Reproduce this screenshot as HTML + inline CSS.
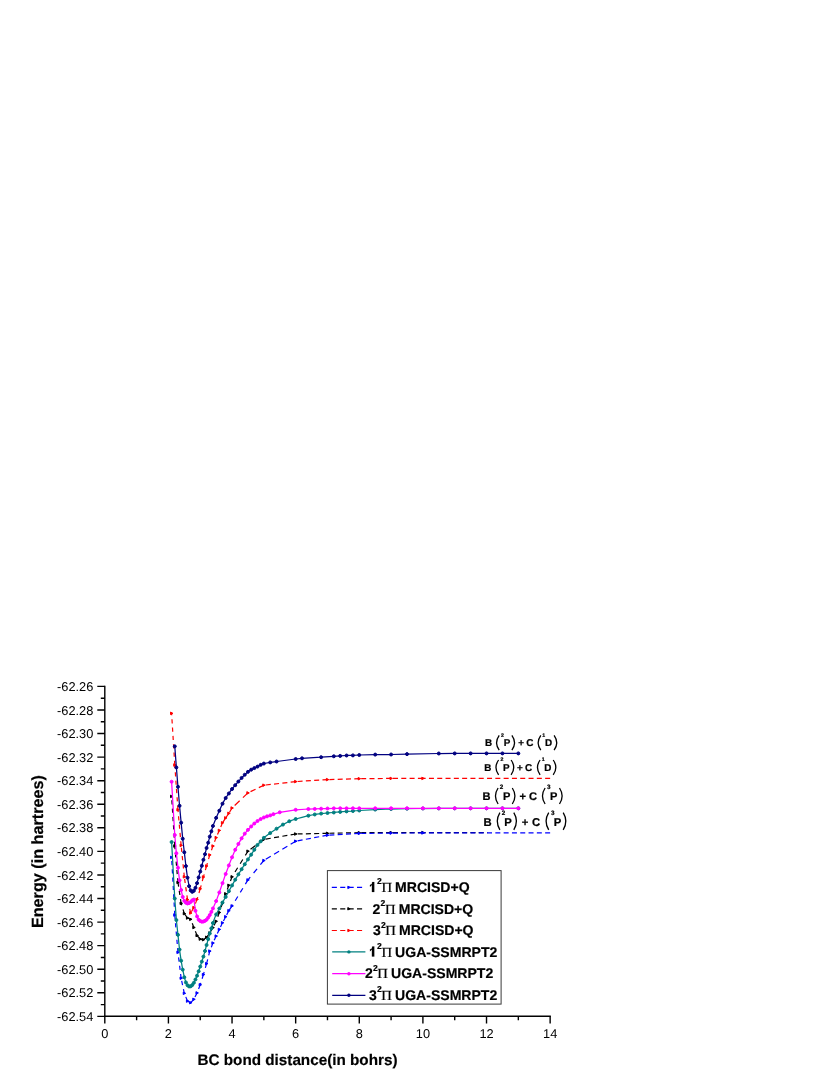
<!DOCTYPE html>
<html><head><meta charset="utf-8"><title>BC potential energy curves</title>
<style>html,body{margin:0;padding:0;background:#fff;}body{width:830px;height:1075px;position:relative;overflow:hidden;font-family:"Liberation Sans",sans-serif;}</style></head>
<body>
<svg width="830" height="1075" viewBox="0 0 830 1075" style="position:absolute;left:0;top:0;font-family:'Liberation Sans',sans-serif;will-change:transform;opacity:0.999;text-rendering:geometricPrecision">
<rect width="830" height="1075" fill="#fff"/>
<defs><clipPath id="ck"><rect x="0" y="0" width="487.5" height="1075"/></clipPath></defs>
<g fill="none" stroke="#000000" stroke-width="1.2" clip-path="url(#ck)"><path d="M174.78,846.00 L171.60,796.40" stroke-dasharray="4.21 4.11"/><path d="M177.96,882.40 L174.78,846.00" stroke-dasharray="4.22 4.12"/><path d="M181.14,903.30 L177.96,882.40" stroke-dasharray="4.25 4.15"/><path d="M184.32,913.60 L181.14,903.30" stroke-dasharray="4.40 4.29"/><path d="M187.51,918.00 L184.32,913.60" stroke-dasharray="5.18 5.06"/><path d="M190.69,919.30 L187.51,918.00" stroke-dasharray="5.40 3.56"/><path d="M193.87,927.50 L190.69,919.30" stroke-dasharray="4.50 4.40"/><path d="M197.05,935.50 L193.87,927.50" stroke-dasharray="4.52 4.41"/><path d="M200.23,939.10 L197.05,935.50" stroke-dasharray="5.60 5.47"/><path d="M203.41,939.70 L200.23,939.10" stroke-dasharray="5.09 3.36"/><path d="M206.59,937.30 L203.41,939.70" stroke-dasharray="6.26 4.13"/><path d="M209.77,933.00 L206.59,937.30" stroke-dasharray="5.22 5.10"/><path d="M212.95,927.60 L209.77,933.00" stroke-dasharray="4.87 4.76"/><path d="M216.13,921.30 L212.95,927.60" stroke-dasharray="4.71 4.59"/><path d="M219.32,912.50 L216.13,921.30" stroke-dasharray="4.47 4.36"/><path d="M222.50,903.20 L219.32,912.50" stroke-dasharray="4.44 4.33"/><path d="M225.68,893.80 L222.50,903.20" stroke-dasharray="4.43 4.33"/><path d="M228.86,885.30 L225.68,893.80" stroke-dasharray="4.48 4.38"/><path d="M232.04,876.80 L228.86,885.30" stroke-dasharray="4.48 4.38"/><path d="M247.94,851.20 L232.04,876.80" stroke-dasharray="4.94 4.83"/><path d="M263.85,839.40 L247.94,851.20" stroke-dasharray="6.23 4.11"/><path d="M295.66,834.00 L263.85,839.40" stroke-dasharray="5.07 3.35"/><path d="M327.47,833.30 L295.66,834.00" stroke-dasharray="5.00 3.30"/><path d="M359.28,832.70 L327.47,833.30" stroke-dasharray="5.00 3.30"/><path d="M391.09,832.55 L359.28,832.70" stroke-dasharray="5.00 3.30"/><path d="M422.90,832.55 L391.09,832.55" stroke-dasharray="5.00 3.30"/><path d="M550.14,832.55 L422.90,832.55" stroke-dasharray="5.00 3.30"/></g>
<g fill="#000000" stroke="#000000" stroke-width="1.0" stroke-linejoin="round"><path d="M170.50,795.15 L172.95,796.40 L170.50,797.65Z"/><path d="M173.68,844.75 L176.13,846.00 L173.68,847.25Z"/><path d="M176.86,881.15 L179.31,882.40 L176.86,883.65Z"/><path d="M180.04,902.05 L182.49,903.30 L180.04,904.55Z"/><path d="M183.22,912.35 L185.67,913.60 L183.22,914.85Z"/><path d="M186.41,916.75 L188.86,918.00 L186.41,919.25Z"/><path d="M189.59,918.05 L192.04,919.30 L189.59,920.55Z"/><path d="M192.77,926.25 L195.22,927.50 L192.77,928.75Z"/><path d="M195.95,934.25 L198.40,935.50 L195.95,936.75Z"/><path d="M199.13,937.85 L201.58,939.10 L199.13,940.35Z"/><path d="M202.31,938.45 L204.76,939.70 L202.31,940.95Z"/><path d="M205.49,936.05 L207.94,937.30 L205.49,938.55Z"/><path d="M208.67,931.75 L211.12,933.00 L208.67,934.25Z"/><path d="M211.85,926.35 L214.30,927.60 L211.85,928.85Z"/><path d="M215.03,920.05 L217.48,921.30 L215.03,922.55Z"/><path d="M218.22,911.25 L220.67,912.50 L218.22,913.75Z"/><path d="M221.40,901.95 L223.85,903.20 L221.40,904.45Z"/><path d="M224.58,892.55 L227.03,893.80 L224.58,895.05Z"/><path d="M227.76,884.05 L230.21,885.30 L227.76,886.55Z"/><path d="M230.94,875.55 L233.39,876.80 L230.94,878.05Z"/><path d="M246.84,849.95 L249.29,851.20 L246.84,852.45Z"/><path d="M262.75,838.15 L265.20,839.40 L262.75,840.65Z"/><path d="M294.56,832.75 L297.01,834.00 L294.56,835.25Z"/><path d="M326.37,832.05 L328.82,833.30 L326.37,834.55Z"/><path d="M358.18,831.45 L360.63,832.70 L358.18,833.95Z"/><path d="M389.99,831.30 L392.44,832.55 L389.99,833.80Z"/><path d="M421.80,831.30 L424.25,832.55 L421.80,833.80Z"/></g>
<g fill="none" stroke="#0000ff" stroke-width="1.2"><path d="M174.78,915.00 L171.60,857.40" stroke-dasharray="4.21 4.11"/><path d="M177.96,952.30 L174.78,915.00" stroke-dasharray="4.22 4.11"/><path d="M181.14,978.20 L177.96,952.30" stroke-dasharray="4.23 4.13"/><path d="M184.32,993.30 L181.14,978.20" stroke-dasharray="4.29 4.19"/><path d="M187.51,1001.10 L184.32,993.30" stroke-dasharray="4.54 4.43"/><path d="M190.69,1002.70 L187.51,1001.10" stroke-dasharray="5.60 3.69"/><path d="M193.87,999.30 L190.69,1002.70" stroke-dasharray="5.75 5.61"/><path d="M197.05,992.90 L193.87,999.30" stroke-dasharray="4.69 4.58"/><path d="M200.23,984.80 L197.05,992.90" stroke-dasharray="4.51 4.40"/><path d="M203.41,974.60 L200.23,984.80" stroke-dasharray="4.40 4.29"/><path d="M206.59,963.70 L203.41,974.60" stroke-dasharray="4.38 4.27"/><path d="M209.77,951.10 L206.59,963.70" stroke-dasharray="4.33 4.23"/><path d="M212.95,943.00 L209.77,951.10" stroke-dasharray="4.51 4.40"/><path d="M216.13,936.10 L212.95,943.00" stroke-dasharray="4.62 4.51"/><path d="M219.32,929.40 L216.13,936.10" stroke-dasharray="4.65 4.54"/><path d="M222.50,922.80 L219.32,929.40" stroke-dasharray="4.66 4.55"/><path d="M225.68,916.70 L222.50,922.80" stroke-dasharray="4.74 4.62"/><path d="M228.86,910.70 L225.68,916.70" stroke-dasharray="4.75 4.64"/><path d="M232.04,905.90 L228.86,910.70" stroke-dasharray="5.04 4.92"/><path d="M247.94,879.90 L232.04,905.90" stroke-dasharray="4.92 4.81"/><path d="M263.85,860.50 L247.94,879.90" stroke-dasharray="5.43 5.30"/><path d="M295.66,841.20 L263.85,860.50" stroke-dasharray="5.85 3.86"/><path d="M327.47,835.20 L295.66,841.20" stroke-dasharray="5.09 3.36"/><path d="M359.28,833.40 L327.47,835.20" stroke-dasharray="5.01 3.31"/><path d="M391.09,833.10 L359.28,833.40" stroke-dasharray="5.00 3.30"/><path d="M422.90,832.90 L391.09,833.10" stroke-dasharray="5.00 3.30"/><path d="M550.14,832.90 L422.90,832.90" stroke-dasharray="5.00 3.30"/></g>
<g fill="#0000ff" stroke="#0000ff" stroke-width="1.0" stroke-linejoin="round"><path d="M170.50,856.15 L172.95,857.40 L170.50,858.65Z"/><path d="M173.68,913.75 L176.13,915.00 L173.68,916.25Z"/><path d="M176.86,951.05 L179.31,952.30 L176.86,953.55Z"/><path d="M180.04,976.95 L182.49,978.20 L180.04,979.45Z"/><path d="M183.22,992.05 L185.67,993.30 L183.22,994.55Z"/><path d="M186.41,999.85 L188.86,1001.10 L186.41,1002.35Z"/><path d="M189.59,1001.45 L192.04,1002.70 L189.59,1003.95Z"/><path d="M192.77,998.05 L195.22,999.30 L192.77,1000.55Z"/><path d="M195.95,991.65 L198.40,992.90 L195.95,994.15Z"/><path d="M199.13,983.55 L201.58,984.80 L199.13,986.05Z"/><path d="M202.31,973.35 L204.76,974.60 L202.31,975.85Z"/><path d="M205.49,962.45 L207.94,963.70 L205.49,964.95Z"/><path d="M208.67,949.85 L211.12,951.10 L208.67,952.35Z"/><path d="M211.85,941.75 L214.30,943.00 L211.85,944.25Z"/><path d="M215.03,934.85 L217.48,936.10 L215.03,937.35Z"/><path d="M218.22,928.15 L220.67,929.40 L218.22,930.65Z"/><path d="M221.40,921.55 L223.85,922.80 L221.40,924.05Z"/><path d="M224.58,915.45 L227.03,916.70 L224.58,917.95Z"/><path d="M227.76,909.45 L230.21,910.70 L227.76,911.95Z"/><path d="M230.94,904.65 L233.39,905.90 L230.94,907.15Z"/><path d="M246.84,878.65 L249.29,879.90 L246.84,881.15Z"/><path d="M262.75,859.25 L265.20,860.50 L262.75,861.75Z"/><path d="M294.56,839.95 L297.01,841.20 L294.56,842.45Z"/><path d="M326.37,833.95 L328.82,835.20 L326.37,836.45Z"/><path d="M358.18,832.15 L360.63,833.40 L358.18,834.65Z"/><path d="M389.99,831.85 L392.44,833.10 L389.99,834.35Z"/><path d="M421.80,831.65 L424.25,832.90 L421.80,834.15Z"/></g>
<g fill="none" stroke="#ff0000" stroke-width="1.2"><path d="M174.78,765.00 L171.60,713.30" stroke-dasharray="4.21 4.11"/><path d="M177.96,809.70 L174.78,765.00" stroke-dasharray="4.21 4.11"/><path d="M181.14,845.40 L177.96,809.70" stroke-dasharray="4.22 4.12"/><path d="M184.32,876.80 L181.14,845.40" stroke-dasharray="4.22 4.12"/><path d="M187.51,899.60 L184.32,876.80" stroke-dasharray="4.24 4.14"/><path d="M190.69,913.00 L187.51,899.60" stroke-dasharray="4.32 4.21"/><path d="M193.87,907.60 L190.69,913.00" stroke-dasharray="4.87 4.76"/><path d="M197.05,899.40 L193.87,907.60" stroke-dasharray="4.50 4.40"/><path d="M200.23,888.80 L197.05,899.40" stroke-dasharray="4.39 4.28"/><path d="M203.41,877.00 L200.23,888.80" stroke-dasharray="4.35 4.25"/><path d="M206.59,866.00 L203.41,877.00" stroke-dasharray="4.37 4.27"/><path d="M209.77,854.90 L206.59,866.00" stroke-dasharray="4.37 4.27"/><path d="M212.95,846.00 L209.77,854.90" stroke-dasharray="4.46 4.35"/><path d="M216.13,837.60 L212.95,846.00" stroke-dasharray="4.49 4.38"/><path d="M219.32,830.40 L216.13,837.60" stroke-dasharray="4.59 4.48"/><path d="M222.50,822.80 L219.32,830.40" stroke-dasharray="4.55 4.44"/><path d="M225.68,817.90 L222.50,822.80" stroke-dasharray="5.01 4.89"/><path d="M228.86,813.30 L225.68,817.90" stroke-dasharray="5.11 4.98"/><path d="M232.04,808.00 L228.86,813.30" stroke-dasharray="4.90 4.78"/><path d="M247.94,792.90 L232.04,808.00" stroke-dasharray="6.89 4.55"/><path d="M263.85,785.20 L247.94,792.90" stroke-dasharray="5.56 3.67"/><path d="M295.66,781.60 L263.85,785.20" stroke-dasharray="5.03 3.32"/><path d="M327.47,779.60 L295.66,781.60" stroke-dasharray="5.01 3.31"/><path d="M359.28,778.70 L327.47,779.60" stroke-dasharray="5.00 3.30"/><path d="M391.09,778.40 L359.28,778.70" stroke-dasharray="5.00 3.30"/><path d="M422.90,778.40 L391.09,778.40" stroke-dasharray="5.00 3.30"/><path d="M550.14,778.40 L422.90,778.40" stroke-dasharray="5.00 3.30"/></g>
<g fill="#ff0000" stroke="#ff0000" stroke-width="1.0" stroke-linejoin="round"><path d="M170.50,712.05 L172.95,713.30 L170.50,714.55Z"/><path d="M173.68,763.75 L176.13,765.00 L173.68,766.25Z"/><path d="M176.86,808.45 L179.31,809.70 L176.86,810.95Z"/><path d="M180.04,844.15 L182.49,845.40 L180.04,846.65Z"/><path d="M183.22,875.55 L185.67,876.80 L183.22,878.05Z"/><path d="M186.41,898.35 L188.86,899.60 L186.41,900.85Z"/><path d="M189.59,911.75 L192.04,913.00 L189.59,914.25Z"/><path d="M192.77,906.35 L195.22,907.60 L192.77,908.85Z"/><path d="M195.95,898.15 L198.40,899.40 L195.95,900.65Z"/><path d="M199.13,887.55 L201.58,888.80 L199.13,890.05Z"/><path d="M202.31,875.75 L204.76,877.00 L202.31,878.25Z"/><path d="M205.49,864.75 L207.94,866.00 L205.49,867.25Z"/><path d="M208.67,853.65 L211.12,854.90 L208.67,856.15Z"/><path d="M211.85,844.75 L214.30,846.00 L211.85,847.25Z"/><path d="M215.03,836.35 L217.48,837.60 L215.03,838.85Z"/><path d="M218.22,829.15 L220.67,830.40 L218.22,831.65Z"/><path d="M221.40,821.55 L223.85,822.80 L221.40,824.05Z"/><path d="M224.58,816.65 L227.03,817.90 L224.58,819.15Z"/><path d="M227.76,812.05 L230.21,813.30 L227.76,814.55Z"/><path d="M230.94,806.75 L233.39,808.00 L230.94,809.25Z"/><path d="M246.84,791.65 L249.29,792.90 L246.84,794.15Z"/><path d="M262.75,783.95 L265.20,785.20 L262.75,786.45Z"/><path d="M294.56,780.35 L297.01,781.60 L294.56,782.85Z"/><path d="M326.37,778.35 L328.82,779.60 L326.37,780.85Z"/><path d="M358.18,777.45 L360.63,778.70 L358.18,779.95Z"/><path d="M389.99,777.15 L392.44,778.40 L389.99,779.65Z"/><path d="M421.80,777.15 L424.25,778.40 L421.80,779.65Z"/></g>
<path d="M171.60,842.00 L171.60,842.02 L174.78,898.50 L174.78,898.53 L176.37,920.00 L176.37,920.03 L177.96,934.80 L177.96,934.83 L179.55,949.55 L179.90,952.30 L181.14,960.69 L182.30,967.30 L182.73,969.63 L184.32,977.23 L184.70,978.60 L185.92,982.42 L187.10,984.80 L187.51,985.22 L189.10,986.44 L189.80,986.60 L190.69,986.33 L192.28,985.02 L192.50,984.80 L193.87,982.78 L195.46,979.49 L195.50,979.40 L197.05,975.66 L198.60,971.40 L198.64,971.29 L200.23,966.57 L201.60,962.30 L201.82,961.61 L203.41,956.58 L204.00,954.60 L205.00,950.97 L206.40,945.70 L206.59,944.99 L208.18,939.13 L209.40,934.80 L209.77,933.53 L211.36,928.32 L211.40,928.20 L212.95,923.00 L213.50,921.30 L215.60,915.60 L216.13,914.44 L218.90,909.30 L219.32,908.50 L222.00,903.40 L222.50,902.50 L225.40,897.40 L225.68,896.91 L228.70,891.50 L228.86,891.21 L232.04,885.40 L235.00,880.10 L235.22,879.72 L238.40,874.37 L241.58,869.23 L241.60,869.20 L244.76,864.27 L247.90,859.50 L247.94,859.43 L251.13,854.65 L253.80,850.60 L254.31,849.80 L257.20,845.30 L257.49,844.93 L260.67,841.35 L260.80,841.20 L263.85,837.83 L264.10,837.60 L270.20,833.10 L270.21,833.09 L276.57,828.68 L276.70,828.60 L282.90,824.60 L282.94,824.58 L289.30,821.24 L289.40,821.20 L295.66,819.01 L295.70,819.00 L302.00,817.40 L308.38,815.70 L308.40,815.70 L314.70,814.50 L314.75,814.49 L321.00,813.60 L321.11,813.59 L327.40,813.00 L327.47,812.99 L333.70,812.50 L333.83,812.49 L340.00,811.90 L340.19,811.88 L346.30,811.40 L346.56,811.38 L352.92,811.01 L353.00,811.00 L359.28,810.50 L359.30,810.50 L375.19,809.60 L375.20,809.60 L391.00,809.00 L391.09,809.00 L406.90,808.70 L407.00,808.70 L422.90,808.50 L423.00,808.50 L438.81,808.43 L454.71,808.38 L470.00,808.35 L470.62,808.35 L486.52,808.33 L502.43,808.31 L518.33,808.30 L518.40,808.30" fill="none" stroke="#008080" stroke-width="1.25" stroke-linejoin="round"/>
<g fill="#008080" stroke="#008080" stroke-width="1.0" stroke-linejoin="round"><circle cx="171.60" cy="842.02" r="1.5"/><circle cx="174.78" cy="898.53" r="1.5"/><circle cx="176.37" cy="920.03" r="1.5"/><circle cx="177.96" cy="934.83" r="1.5"/><circle cx="179.55" cy="949.55" r="1.5"/><circle cx="181.14" cy="960.69" r="1.5"/><circle cx="182.73" cy="969.63" r="1.5"/><circle cx="184.32" cy="977.23" r="1.5"/><circle cx="185.92" cy="982.42" r="1.5"/><circle cx="187.51" cy="985.22" r="1.5"/><circle cx="189.10" cy="986.44" r="1.5"/><circle cx="190.69" cy="986.33" r="1.5"/><circle cx="192.28" cy="985.02" r="1.5"/><circle cx="193.87" cy="982.78" r="1.5"/><circle cx="195.46" cy="979.49" r="1.5"/><circle cx="197.05" cy="975.66" r="1.5"/><circle cx="198.64" cy="971.29" r="1.5"/><circle cx="200.23" cy="966.57" r="1.5"/><circle cx="201.82" cy="961.61" r="1.5"/><circle cx="203.41" cy="956.58" r="1.5"/><circle cx="205.00" cy="950.97" r="1.5"/><circle cx="206.59" cy="944.99" r="1.5"/><circle cx="208.18" cy="939.13" r="1.5"/><circle cx="209.77" cy="933.53" r="1.5"/><circle cx="211.36" cy="928.32" r="1.5"/><circle cx="212.95" cy="923.00" r="1.5"/><circle cx="216.13" cy="914.44" r="1.5"/><circle cx="219.32" cy="908.50" r="1.5"/><circle cx="222.50" cy="902.50" r="1.5"/><circle cx="225.68" cy="896.91" r="1.5"/><circle cx="228.86" cy="891.21" r="1.5"/><circle cx="232.04" cy="885.40" r="1.5"/><circle cx="235.22" cy="879.72" r="1.5"/><circle cx="238.40" cy="874.37" r="1.5"/><circle cx="241.58" cy="869.23" r="1.5"/><circle cx="244.76" cy="864.27" r="1.5"/><circle cx="247.94" cy="859.43" r="1.5"/><circle cx="251.13" cy="854.65" r="1.5"/><circle cx="254.31" cy="849.80" r="1.5"/><circle cx="257.49" cy="844.93" r="1.5"/><circle cx="260.67" cy="841.35" r="1.5"/><circle cx="263.85" cy="837.83" r="1.5"/><circle cx="270.21" cy="833.09" r="1.5"/><circle cx="276.57" cy="828.68" r="1.5"/><circle cx="282.94" cy="824.58" r="1.5"/><circle cx="289.30" cy="821.24" r="1.5"/><circle cx="295.66" cy="819.01" r="1.5"/><circle cx="308.38" cy="815.70" r="1.5"/><circle cx="314.75" cy="814.49" r="1.5"/><circle cx="321.11" cy="813.59" r="1.5"/><circle cx="327.47" cy="812.99" r="1.5"/><circle cx="333.83" cy="812.49" r="1.5"/><circle cx="340.19" cy="811.88" r="1.5"/><circle cx="346.56" cy="811.38" r="1.5"/><circle cx="352.92" cy="811.01" r="1.5"/><circle cx="359.28" cy="810.50" r="1.5"/><circle cx="375.19" cy="809.60" r="1.5"/><circle cx="391.09" cy="809.00" r="1.5"/><circle cx="407.00" cy="808.70" r="1.5"/><circle cx="422.90" cy="808.50" r="1.5"/><circle cx="438.81" cy="808.43" r="1.5"/><circle cx="454.71" cy="808.38" r="1.5"/><circle cx="470.62" cy="808.35" r="1.5"/><circle cx="486.52" cy="808.33" r="1.5"/><circle cx="502.43" cy="808.31" r="1.5"/><circle cx="518.33" cy="808.30" r="1.5"/></g>
<path d="M171.60,781.70 L171.60,781.72 L174.78,835.00 L174.78,835.03 L176.37,853.20 L176.37,853.23 L177.96,867.69 L178.00,868.00 L179.55,880.28 L179.60,880.60 L181.10,889.80 L181.14,890.02 L182.73,896.91 L182.90,897.40 L184.32,900.86 L185.20,902.10 L185.92,902.68 L187.51,903.48 L187.80,903.50 L189.10,903.03 L190.30,902.20 L190.69,901.88 L192.20,900.40 L192.28,900.35 L193.87,899.60 L193.90,899.60 L194.70,905.10 L195.46,910.78 L195.50,911.00 L197.00,916.30 L197.05,916.42 L198.64,919.67 L199.30,920.40 L200.23,921.01 L201.82,921.66 L202.30,921.70 L203.41,921.52 L205.00,920.80 L205.70,920.40 L206.59,919.65 L208.18,917.54 L209.00,916.30 L209.77,915.01 L211.36,911.88 L211.50,911.60 L212.95,908.42 L214.10,905.80 L216.10,901.20 L216.13,901.11 L219.30,892.50 L219.32,892.45 L222.30,883.70 L222.50,883.12 L225.30,875.00 L225.68,873.95 L228.86,865.41 L228.90,865.30 L232.04,857.29 L232.20,856.90 L235.20,849.80 L235.22,849.76 L238.40,843.95 L238.60,843.60 L241.58,838.33 L241.60,838.30 L244.60,833.90 L244.76,833.68 L247.90,829.90 L247.94,829.85 L251.00,826.60 L251.13,826.48 L254.00,823.80 L254.31,823.53 L257.20,821.20 L257.49,821.00 L260.67,819.07 L260.80,819.00 L263.85,817.50 L264.10,817.40 L267.03,816.35 L267.20,816.30 L270.20,815.40 L270.21,815.40 L273.39,814.14 L273.50,814.10 L279.75,812.31 L279.80,812.30 L295.66,809.80 L295.70,809.80 L308.38,809.00 L308.40,809.00 L314.70,808.90 L314.75,808.90 L321.00,808.70 L321.11,808.70 L327.40,808.50 L327.47,808.50 L333.83,808.36 L340.00,808.30 L340.19,808.30 L346.56,808.30 L352.92,808.30 L359.28,808.30 L375.19,808.30 L391.09,808.30 L407.00,808.30 L420.00,808.30 L422.90,808.30 L438.81,808.30 L454.71,808.30 L470.62,808.30 L486.52,808.30 L502.43,808.30 L518.33,808.30 L518.40,808.30" fill="none" stroke="#ff00ff" stroke-width="1.25" stroke-linejoin="round"/>
<g fill="#ff00ff" stroke="#ff00ff" stroke-width="1.0" stroke-linejoin="round"><circle cx="171.60" cy="781.72" r="1.5"/><circle cx="174.78" cy="835.03" r="1.5"/><circle cx="176.37" cy="853.23" r="1.5"/><circle cx="177.96" cy="867.69" r="1.5"/><circle cx="179.55" cy="880.28" r="1.5"/><circle cx="181.14" cy="890.02" r="1.5"/><circle cx="182.73" cy="896.91" r="1.5"/><circle cx="184.32" cy="900.86" r="1.5"/><circle cx="185.92" cy="902.68" r="1.5"/><circle cx="187.51" cy="903.48" r="1.5"/><circle cx="189.10" cy="903.03" r="1.5"/><circle cx="190.69" cy="901.88" r="1.5"/><circle cx="192.28" cy="900.35" r="1.5"/><circle cx="193.87" cy="899.60" r="1.5"/><circle cx="195.46" cy="910.78" r="1.5"/><circle cx="197.05" cy="916.42" r="1.5"/><circle cx="198.64" cy="919.67" r="1.5"/><circle cx="200.23" cy="921.01" r="1.5"/><circle cx="201.82" cy="921.66" r="1.5"/><circle cx="203.41" cy="921.52" r="1.5"/><circle cx="205.00" cy="920.80" r="1.5"/><circle cx="206.59" cy="919.65" r="1.5"/><circle cx="208.18" cy="917.54" r="1.5"/><circle cx="209.77" cy="915.01" r="1.5"/><circle cx="211.36" cy="911.88" r="1.5"/><circle cx="212.95" cy="908.42" r="1.5"/><circle cx="216.13" cy="901.11" r="1.5"/><circle cx="219.32" cy="892.45" r="1.5"/><circle cx="222.50" cy="883.12" r="1.5"/><circle cx="225.68" cy="873.95" r="1.5"/><circle cx="228.86" cy="865.41" r="1.5"/><circle cx="232.04" cy="857.29" r="1.5"/><circle cx="235.22" cy="849.76" r="1.5"/><circle cx="238.40" cy="843.95" r="1.5"/><circle cx="241.58" cy="838.33" r="1.5"/><circle cx="244.76" cy="833.68" r="1.5"/><circle cx="247.94" cy="829.85" r="1.5"/><circle cx="251.13" cy="826.48" r="1.5"/><circle cx="254.31" cy="823.53" r="1.5"/><circle cx="257.49" cy="821.00" r="1.5"/><circle cx="260.67" cy="819.07" r="1.5"/><circle cx="263.85" cy="817.50" r="1.5"/><circle cx="267.03" cy="816.35" r="1.5"/><circle cx="270.21" cy="815.40" r="1.5"/><circle cx="273.39" cy="814.14" r="1.5"/><circle cx="279.75" cy="812.31" r="1.5"/><circle cx="295.66" cy="809.80" r="1.5"/><circle cx="308.38" cy="809.00" r="1.5"/><circle cx="314.75" cy="808.90" r="1.5"/><circle cx="321.11" cy="808.70" r="1.5"/><circle cx="327.47" cy="808.50" r="1.5"/><circle cx="333.83" cy="808.36" r="1.5"/><circle cx="340.19" cy="808.30" r="1.5"/><circle cx="346.56" cy="808.30" r="1.5"/><circle cx="352.92" cy="808.30" r="1.5"/><circle cx="359.28" cy="808.30" r="1.5"/><circle cx="375.19" cy="808.30" r="1.5"/><circle cx="391.09" cy="808.30" r="1.5"/><circle cx="407.00" cy="808.30" r="1.5"/><circle cx="422.90" cy="808.30" r="1.5"/><circle cx="438.81" cy="808.30" r="1.5"/><circle cx="454.71" cy="808.30" r="1.5"/><circle cx="470.62" cy="808.30" r="1.5"/><circle cx="486.52" cy="808.30" r="1.5"/><circle cx="502.43" cy="808.30" r="1.5"/><circle cx="518.33" cy="808.30" r="1.5"/></g>
<path d="M174.78,746.30 L174.78,746.33 L176.30,766.50 L176.37,767.42 L177.96,786.75 L178.00,787.20 L179.50,805.20 L179.55,805.80 L181.10,822.20 L181.14,822.66 L182.70,838.40 L182.73,838.72 L184.32,852.26 L184.40,852.90 L185.90,866.00 L185.92,866.12 L187.40,877.00 L187.51,877.65 L189.10,886.13 L189.20,886.50 L190.69,890.38 L190.70,890.40 L192.28,891.87 L192.50,891.90 L193.87,890.76 L194.00,890.60 L195.40,888.00 L195.46,887.87 L197.00,883.30 L197.05,883.14 L198.50,877.90 L198.64,877.39 L200.10,872.00 L200.23,871.53 L201.70,866.20 L201.82,865.75 L203.30,860.20 L203.41,859.80 L205.00,854.20 L205.00,854.19 L206.50,848.30 L206.59,847.97 L208.18,842.66 L208.20,842.60 L209.70,836.90 L209.77,836.64 L211.30,831.50 L211.36,831.29 L212.95,825.94 L213.00,825.80 L215.70,818.90 L216.13,817.87 L219.10,811.20 L219.32,810.71 L222.10,804.50 L222.50,803.70 L225.30,798.60 L225.68,798.00 L228.70,793.70 L228.86,793.47 L231.90,789.20 L232.04,789.02 L235.20,785.20 L235.22,785.18 L238.40,781.53 L238.60,781.30 L241.58,777.92 L241.70,777.80 L244.76,774.73 L244.90,774.60 L247.94,771.84 L248.00,771.80 L250.90,769.80 L251.13,769.67 L254.30,768.10 L254.31,768.10 L257.49,766.61 L257.50,766.60 L260.67,764.86 L260.80,764.80 L263.85,763.57 L264.10,763.50 L270.20,762.40 L270.21,762.40 L276.57,761.52 L276.70,761.50 L295.66,759.00 L295.70,759.00 L302.00,758.30 L302.02,758.30 L321.00,757.20 L321.11,757.19 L333.70,756.30 L333.83,756.29 L340.00,755.90 L340.19,755.89 L346.30,755.50 L346.56,755.49 L352.92,755.40 L353.00,755.40 L359.28,755.00 L359.30,755.00 L375.19,754.60 L375.20,754.60 L391.00,754.50 L391.09,754.50 L406.90,754.10 L407.00,754.10 L438.81,753.50 L438.90,753.50 L454.71,753.43 L470.00,753.40 L470.62,753.40 L486.52,753.40 L502.43,753.40 L518.33,753.40 L518.40,753.40" fill="none" stroke="#000080" stroke-width="1.25" stroke-linejoin="round"/>
<g fill="#000080" stroke="#000080" stroke-width="1.0" stroke-linejoin="round"><circle cx="174.78" cy="746.33" r="1.5"/><circle cx="176.37" cy="767.42" r="1.5"/><circle cx="177.96" cy="786.75" r="1.5"/><circle cx="179.55" cy="805.80" r="1.5"/><circle cx="181.14" cy="822.66" r="1.5"/><circle cx="182.73" cy="838.72" r="1.5"/><circle cx="184.32" cy="852.26" r="1.5"/><circle cx="185.92" cy="866.12" r="1.5"/><circle cx="187.51" cy="877.65" r="1.5"/><circle cx="189.10" cy="886.13" r="1.5"/><circle cx="190.69" cy="890.38" r="1.5"/><circle cx="192.28" cy="891.87" r="1.5"/><circle cx="193.87" cy="890.76" r="1.5"/><circle cx="195.46" cy="887.87" r="1.5"/><circle cx="197.05" cy="883.14" r="1.5"/><circle cx="198.64" cy="877.39" r="1.5"/><circle cx="200.23" cy="871.53" r="1.5"/><circle cx="201.82" cy="865.75" r="1.5"/><circle cx="203.41" cy="859.80" r="1.5"/><circle cx="205.00" cy="854.19" r="1.5"/><circle cx="206.59" cy="847.97" r="1.5"/><circle cx="208.18" cy="842.66" r="1.5"/><circle cx="209.77" cy="836.64" r="1.5"/><circle cx="211.36" cy="831.29" r="1.5"/><circle cx="212.95" cy="825.94" r="1.5"/><circle cx="216.13" cy="817.87" r="1.5"/><circle cx="219.32" cy="810.71" r="1.5"/><circle cx="222.50" cy="803.70" r="1.5"/><circle cx="225.68" cy="798.00" r="1.5"/><circle cx="228.86" cy="793.47" r="1.5"/><circle cx="232.04" cy="789.02" r="1.5"/><circle cx="235.22" cy="785.18" r="1.5"/><circle cx="238.40" cy="781.53" r="1.5"/><circle cx="241.58" cy="777.92" r="1.5"/><circle cx="244.76" cy="774.73" r="1.5"/><circle cx="247.94" cy="771.84" r="1.5"/><circle cx="251.13" cy="769.67" r="1.5"/><circle cx="254.31" cy="768.10" r="1.5"/><circle cx="257.49" cy="766.61" r="1.5"/><circle cx="260.67" cy="764.86" r="1.5"/><circle cx="263.85" cy="763.57" r="1.5"/><circle cx="270.21" cy="762.40" r="1.5"/><circle cx="276.57" cy="761.52" r="1.5"/><circle cx="295.66" cy="759.00" r="1.5"/><circle cx="302.02" cy="758.30" r="1.5"/><circle cx="321.11" cy="757.19" r="1.5"/><circle cx="333.83" cy="756.29" r="1.5"/><circle cx="340.19" cy="755.89" r="1.5"/><circle cx="346.56" cy="755.49" r="1.5"/><circle cx="352.92" cy="755.40" r="1.5"/><circle cx="359.28" cy="755.00" r="1.5"/><circle cx="375.19" cy="754.60" r="1.5"/><circle cx="391.09" cy="754.50" r="1.5"/><circle cx="407.00" cy="754.10" r="1.5"/><circle cx="438.81" cy="753.50" r="1.5"/><circle cx="454.71" cy="753.43" r="1.5"/><circle cx="470.62" cy="753.40" r="1.5"/><circle cx="486.52" cy="753.40" r="1.5"/><circle cx="502.43" cy="753.40" r="1.5"/><circle cx="518.33" cy="753.40" r="1.5"/></g>
<g stroke="#000" stroke-width="1.4" fill="none">
<path d="M104.80,685.70 V1017.00"/>
<path d="M104.10,1016.30 H550.84"/>
<path d="M104.80,686.40 h-7.5 M104.80,709.97 h-7.5 M104.80,733.54 h-7.5 M104.80,757.11 h-7.5 M104.80,780.68 h-7.5 M104.80,804.25 h-7.5 M104.80,827.82 h-7.5 M104.80,851.39 h-7.5 M104.80,874.96 h-7.5 M104.80,898.53 h-7.5 M104.80,922.10 h-7.5 M104.80,945.67 h-7.5 M104.80,969.24 h-7.5 M104.80,992.81 h-7.5 M104.80,1016.38 h-7.5 M104.80,698.18 h-4 M104.80,721.75 h-4 M104.80,745.32 h-4 M104.80,768.89 h-4 M104.80,792.46 h-4 M104.80,816.03 h-4 M104.80,839.61 h-4 M104.80,863.17 h-4 M104.80,886.75 h-4 M104.80,910.31 h-4 M104.80,933.88 h-4 M104.80,957.45 h-4 M104.80,981.02 h-4 M104.80,1004.60 h-4 M104.80,1016.30 v7.2 M136.61,1016.30 v4 M168.42,1016.30 v7.2 M200.23,1016.30 v4 M232.04,1016.30 v7.2 M263.85,1016.30 v4 M295.66,1016.30 v7.2 M327.47,1016.30 v4 M359.28,1016.30 v7.2 M391.09,1016.30 v4 M422.90,1016.30 v7.2 M454.71,1016.30 v4 M486.52,1016.30 v7.2 M518.33,1016.30 v4 M550.14,1016.30 v7.2"/>
</g>
<g font-size="12.8" fill="#000">
<text x="93.3" y="691.00" text-anchor="end">-62.26</text>
<text x="93.3" y="714.57" text-anchor="end">-62.28</text>
<text x="93.3" y="738.14" text-anchor="end">-62.30</text>
<text x="93.3" y="761.71" text-anchor="end">-62.32</text>
<text x="93.3" y="785.28" text-anchor="end">-62.34</text>
<text x="93.3" y="808.85" text-anchor="end">-62.36</text>
<text x="93.3" y="832.42" text-anchor="end">-62.38</text>
<text x="93.3" y="855.99" text-anchor="end">-62.40</text>
<text x="93.3" y="879.56" text-anchor="end">-62.42</text>
<text x="93.3" y="903.13" text-anchor="end">-62.44</text>
<text x="93.3" y="926.70" text-anchor="end">-62.46</text>
<text x="93.3" y="950.27" text-anchor="end">-62.48</text>
<text x="93.3" y="973.84" text-anchor="end">-62.50</text>
<text x="93.3" y="997.41" text-anchor="end">-62.52</text>
<text x="93.3" y="1020.98" text-anchor="end">-62.54</text>
<text x="104.80" y="1038" text-anchor="middle">0</text>
<text x="168.42" y="1038" text-anchor="middle">2</text>
<text x="232.04" y="1038" text-anchor="middle">4</text>
<text x="295.66" y="1038" text-anchor="middle">6</text>
<text x="359.28" y="1038" text-anchor="middle">8</text>
<text x="422.90" y="1038" text-anchor="middle">10</text>
<text x="486.52" y="1038" text-anchor="middle">12</text>
<text x="550.14" y="1038" text-anchor="middle">14</text>
</g>
<g font-weight="bold" fill="#000" stroke="#000" stroke-width="0.18">
<text x="297.5" y="1065.3" font-size="15.25" text-anchor="middle">BC bond distance(in bohrs)</text>
<text transform="translate(43.2,851.6) rotate(-90)" font-size="16.2" text-anchor="middle">Energy (in hartrees)</text>
</g>
<rect x="327.4" y="870.6" width="173.7" height="133.5" fill="#fff" stroke="#3a3a3a" stroke-width="1"/>
<g stroke="#000" stroke-width="0.18">
<path d="M331.8,887.4 H362.1" stroke="#0000ff" stroke-width="1.15" stroke-dasharray="5.1 3.3" fill="none"/>
<path d="M347.8,886.1999999999999 L350.2,887.4 L347.8,888.6Z" fill="#0000ff" stroke="#0000ff" stroke-width="1.0" stroke-linejoin="round"/>
<path d="M374.26,892.00 L371.93,892.00 L371.93,884.92 L370.10,886.80 L369.90,885.07 L371.88,883.98 L372.23,882.10 L374.26,882.10Z" fill="#000"/>
<text x="377.0" y="884.4" font-size="8.6" font-weight="bold">2</text>
<text transform="translate(381.4,892.0) scale(1.06,1)" font-size="13.9" font-family="'Liberation Serif',serif" stroke="#000" stroke-width="0.22">&#928;</text>
<text x="395.1" y="892.0" font-size="14.05" font-weight="bold">MRCISD+Q</text>
<path d="M331.8,908.8 H362.1" stroke="#000000" stroke-width="1.15" stroke-dasharray="5.1 3.3" fill="none"/>
<path d="M347.8,907.5999999999999 L350.2,908.8 L347.8,910.0Z" fill="#000000" stroke="#000000" stroke-width="1.0" stroke-linejoin="round"/>
<text x="372.6" y="913.5" font-size="14.05" font-weight="bold">2</text>
<text x="380.6" y="905.9" font-size="8.6" font-weight="bold">2</text>
<text transform="translate(385.0,913.5) scale(1.06,1)" font-size="13.9" font-family="'Liberation Serif',serif" stroke="#000" stroke-width="0.22">&#928;</text>
<text x="398.70000000000005" y="913.5" font-size="14.05" font-weight="bold">MRCISD+Q</text>
<path d="M331.8,930.5 H362.1" stroke="#ff0000" stroke-width="1.15" stroke-dasharray="5.1 3.3" fill="none"/>
<path d="M347.8,929.3 L350.2,930.5 L347.8,931.7Z" fill="#ff0000" stroke="#ff0000" stroke-width="1.0" stroke-linejoin="round"/>
<text x="372.9" y="935.2" font-size="14.05" font-weight="bold">3</text>
<text x="380.9" y="927.6" font-size="8.6" font-weight="bold">2</text>
<text transform="translate(385.29999999999995,935.2) scale(1.06,1)" font-size="13.9" font-family="'Liberation Serif',serif" stroke="#000" stroke-width="0.22">&#928;</text>
<text x="399.0" y="935.2" font-size="14.05" font-weight="bold">MRCISD+Q</text>
<path d="M332.2,951.9 H365.4" stroke="#008080" stroke-width="1.2" fill="none"/>
<circle cx="348.9" cy="951.9" r="1.7" fill="#008080" stroke="none"/>
<path d="M374.26,956.50 L371.93,956.50 L371.93,949.42 L370.10,951.30 L369.90,949.57 L371.88,948.48 L372.23,946.60 L374.26,946.60Z" fill="#000"/>
<text x="377.0" y="948.9" font-size="8.6" font-weight="bold">2</text>
<text transform="translate(381.4,956.5) scale(1.06,1)" font-size="13.9" font-family="'Liberation Serif',serif" stroke="#000" stroke-width="0.22">&#928;</text>
<text x="395.1" y="956.5" font-size="14.05" font-weight="bold">UGA-SSMRPT2</text>
<path d="M332.2,973.7 H365.4" stroke="#ff00ff" stroke-width="1.2" fill="none"/>
<circle cx="348.9" cy="973.7" r="1.7" fill="#ff00ff" stroke="none"/>
<text x="364.9" y="978.3" font-size="14.05" font-weight="bold">2</text>
<text x="372.9" y="970.6999999999999" font-size="8.6" font-weight="bold">2</text>
<text transform="translate(377.29999999999995,978.3) scale(1.06,1)" font-size="13.9" font-family="'Liberation Serif',serif" stroke="#000" stroke-width="0.22">&#928;</text>
<text x="391.0" y="978.3" font-size="14.05" font-weight="bold">UGA-SSMRPT2</text>
<path d="M332.2,995.3 H365.4" stroke="#000080" stroke-width="1.2" fill="none"/>
<circle cx="348.9" cy="995.3" r="1.7" fill="#000080" stroke="none"/>
<text x="368.9" y="999.8" font-size="14.05" font-weight="bold">3</text>
<text x="376.9" y="992.1999999999999" font-size="8.6" font-weight="bold">2</text>
<text transform="translate(381.29999999999995,999.8) scale(1.06,1)" font-size="13.9" font-family="'Liberation Serif',serif" stroke="#000" stroke-width="0.22">&#928;</text>
<text x="395.0" y="999.8" font-size="14.05" font-weight="bold">UGA-SSMRPT2</text>
</g>
<g font-weight="bold" font-size="9.9" fill="#000" stroke="#000" stroke-width="0.22">
<text x="485.11" y="746.1">B</text>
<text x="503.81" y="746.1">P</text>
<text x="518.31" y="746.1">+</text>
<text x="526.31" y="746.1">C</text>
<text x="545.11" y="746.1">D</text>
<text x="501.00" y="736.5" font-size="5.2">2</text>
<text x="542.30" y="736.5" font-size="5.2">1</text>
</g>
<path d="M499.20,735.40 Q493.95,742.80 499.20,750.20" fill="none" stroke="#000" stroke-width="1.3"/>
<path d="M511.90,735.40 Q517.15,742.80 511.90,750.20" fill="none" stroke="#000" stroke-width="1.3"/>
<path d="M540.80,735.40 Q535.55,742.80 540.80,750.20" fill="none" stroke="#000" stroke-width="1.3"/>
<path d="M554.10,735.40 Q559.35,742.80 554.10,750.20" fill="none" stroke="#000" stroke-width="1.3"/>
<g font-weight="bold" font-size="9.9" fill="#000" stroke="#000" stroke-width="0.22">
<text x="484.31" y="770.8">B</text>
<text x="502.91" y="770.8">P</text>
<text x="517.11" y="770.8">+</text>
<text x="525.11" y="770.8">C</text>
<text x="544.21" y="770.8">D</text>
<text x="500.40" y="761.2" font-size="5.2">2</text>
<text x="541.70" y="761.2" font-size="5.2">1</text>
</g>
<path d="M498.60,760.00 Q493.35,767.45 498.60,774.90" fill="none" stroke="#000" stroke-width="1.3"/>
<path d="M511.10,760.00 Q516.35,767.45 511.10,774.90" fill="none" stroke="#000" stroke-width="1.3"/>
<path d="M540.10,760.00 Q534.85,767.45 540.10,774.90" fill="none" stroke="#000" stroke-width="1.3"/>
<path d="M553.20,760.00 Q558.45,767.45 553.20,774.90" fill="none" stroke="#000" stroke-width="1.3"/>
<g font-weight="bold" font-size="11.1" fill="#000" stroke="#000" stroke-width="0.22">
<text x="482.62" y="799.9">B</text>
<text x="503.12" y="799.9">P</text>
<text x="519.42" y="799.9">+</text>
<text x="529.02" y="799.9">C</text>
<text x="550.12" y="799.9">P</text>
<text x="499.70" y="789.0" font-size="6.3">2</text>
<text x="546.90" y="789.0" font-size="6.3">3</text>
</g>
<path d="M498.10,788.00 Q492.85,796.00 498.10,804.00" fill="none" stroke="#000" stroke-width="1.3"/>
<path d="M512.30,788.00 Q517.55,796.00 512.30,804.00" fill="none" stroke="#000" stroke-width="1.3"/>
<path d="M545.10,788.00 Q539.85,796.00 545.10,804.00" fill="none" stroke="#000" stroke-width="1.3"/>
<path d="M559.50,788.00 Q564.75,796.00 559.50,804.00" fill="none" stroke="#000" stroke-width="1.3"/>
<g font-weight="bold" font-size="11.3" fill="#000" stroke="#000" stroke-width="0.22">
<text x="483.61" y="825.8">B</text>
<text x="504.31" y="825.8">P</text>
<text x="521.81" y="825.8">+</text>
<text x="532.01" y="825.8">C</text>
<text x="553.71" y="825.8">P</text>
<text x="501.70" y="814.9" font-size="6.3">2</text>
<text x="550.90" y="814.9" font-size="6.3">3</text>
</g>
<path d="M499.90,812.70 Q494.65,821.30 499.90,829.90" fill="none" stroke="#000" stroke-width="1.3"/>
<path d="M513.80,812.70 Q519.05,821.30 513.80,829.90" fill="none" stroke="#000" stroke-width="1.3"/>
<path d="M548.70,812.70 Q543.45,821.30 548.70,829.90" fill="none" stroke="#000" stroke-width="1.3"/>
<path d="M563.20,812.70 Q568.45,821.30 563.20,829.90" fill="none" stroke="#000" stroke-width="1.3"/>
</svg>
</body></html>
